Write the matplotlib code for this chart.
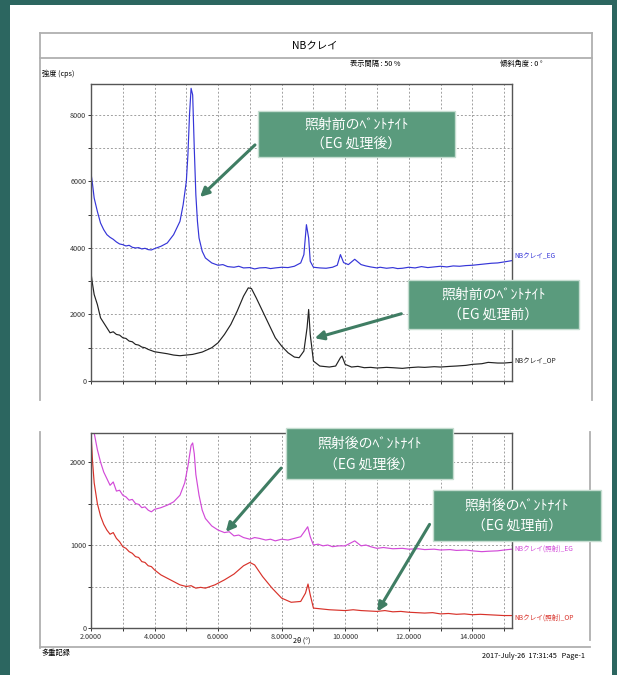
import matplotlib
matplotlib.use("Agg")
import matplotlib.pyplot as plt
from matplotlib.patches import Rectangle, FancyArrowPatch
from matplotlib.lines import Line2D

plt.rcParams['font.family'] = ['Noto Sans CJK JP', 'DejaVu Sans']

W, H = 617, 675

# --- data (2theta in degrees, intensity in cps) ---
eg_before_x = [2.0, 2.05, 2.1, 2.2, 2.3, 2.4, 2.5, 2.6, 2.7, 2.8, 2.9, 3.0, 3.1, 3.2, 3.3,
               3.4, 3.5, 3.6, 3.7, 3.8, 3.9, 4.0, 4.2, 4.4, 4.6, 4.8, 4.9, 5.0, 5.05, 5.1,
               5.15, 5.2, 5.25, 5.3, 5.35, 5.4, 5.5, 5.6, 5.8, 6.0, 6.15, 6.3, 6.5, 6.65,
               6.8, 7.0, 7.15, 7.3, 7.5, 7.65, 7.8, 8.0, 8.2, 8.4, 8.6, 8.7, 8.78, 8.85,
               8.9, 9.0, 9.2, 9.4, 9.6, 9.75, 9.85, 9.95, 10.1, 10.3, 10.5, 10.65, 10.8,
               11.0, 11.1, 11.3, 11.5, 11.65, 11.8, 12.0, 12.2, 12.4, 12.6, 12.8, 13.0,
               13.2, 13.4, 13.6, 13.8, 14.0, 14.2, 14.4, 14.6, 14.8, 15.0, 15.25]
eg_before_y = [6250, 5900, 5500, 5100, 4750, 4550, 4400, 4320, 4260, 4180, 4120, 4100, 4060,
               4080, 4020, 4000, 4010, 3970, 3990, 3950, 3940, 3980, 4050, 4150, 4400, 4800,
               5300, 6000, 6800, 8000, 8800, 8600, 7000, 5600, 4800, 4300, 3900, 3700, 3550,
               3480, 3500, 3440, 3420, 3450, 3400, 3410, 3370, 3400, 3410, 3380, 3400, 3420,
               3410, 3450, 3550, 3800, 4700, 4300, 3600, 3420, 3400, 3390, 3420, 3480, 3800,
               3560, 3500, 3660, 3500, 3460, 3430, 3400, 3420, 3390, 3410, 3380, 3390, 3420,
               3400, 3440, 3410, 3430, 3450, 3430, 3460, 3450, 3470, 3480, 3500, 3520, 3540,
               3550, 3580, 3620]

op_before_x = [2.0, 2.05, 2.1, 2.2, 2.3, 2.4, 2.5, 2.6, 2.7, 2.8, 2.9, 3.0, 3.1, 3.2, 3.3,
               3.4, 3.5, 3.6, 3.7, 3.8, 4.0, 4.2, 4.4, 4.6, 4.8, 5.0, 5.2, 5.5, 5.8, 6.0,
               6.2, 6.4, 6.6, 6.8, 6.95, 7.05, 7.2, 7.4, 7.6, 7.8, 8.0, 8.2, 8.4, 8.55, 8.7,
               8.8, 8.85, 8.9, 9.0, 9.2, 9.5, 9.7, 9.85, 9.9, 10.0, 10.2, 10.4, 10.6, 10.8,
               11.0, 11.3, 11.5, 11.8, 12.0, 12.3, 12.5, 12.8, 13.0, 13.3, 13.5, 13.8, 14.0,
               14.3, 14.5, 14.8, 15.0, 15.25]
op_before_y = [3250, 2900, 2600, 2300, 1900, 1750, 1600, 1450, 1480, 1400, 1380, 1300, 1280,
               1200, 1180, 1100, 1080, 1020, 1000, 950, 880, 850, 820, 780, 760, 780, 800,
               870, 1000, 1150, 1400, 1700, 2100, 2550, 2800, 2780, 2500, 2100, 1700, 1300,
               1050, 850, 720, 700, 900, 1600, 2150, 1400, 600, 450, 420, 450, 700, 750, 500,
               420, 440, 400, 410, 390, 410, 400, 380, 400, 420, 410, 430, 420, 440, 450, 470,
               500, 520, 560, 540, 540, 560]

eg_after_x = [2.1, 2.2, 2.3, 2.4, 2.5, 2.6, 2.7, 2.8, 2.9, 3.0, 3.1, 3.2, 3.3, 3.4, 3.5,
              3.6, 3.7, 3.8, 3.9, 4.0, 4.2, 4.4, 4.6, 4.8, 4.95, 5.05, 5.15, 5.2, 5.25, 5.3,
              5.4, 5.5, 5.6, 5.8, 6.0, 6.2, 6.35, 6.5, 6.65, 6.8, 7.0, 7.15, 7.3, 7.5, 7.65,
              7.8, 8.0, 8.2, 8.4, 8.6, 8.75, 8.82, 8.9, 9.0, 9.15, 9.3, 9.45, 9.6, 9.8,
              10.0, 10.3, 10.5, 10.65, 10.8, 11.0, 11.2, 11.5, 11.8, 12.0, 12.3, 12.5,
              12.8, 13.0, 13.3, 13.5, 13.8, 14.0, 14.3, 14.5, 14.8, 15.0, 15.25]
eg_after_y = [2350, 2150, 2000, 1880, 1800, 1720, 1760, 1650, 1660, 1600, 1580, 1540, 1550,
              1500, 1490, 1450, 1460, 1420, 1400, 1430, 1450, 1480, 1520, 1600, 1750, 1950,
              2200, 2230, 2100, 1850, 1600, 1420, 1320, 1230, 1180, 1150, 1160, 1110, 1120,
              1090, 1070, 1090, 1080, 1060, 1070, 1050, 1070, 1060, 1080, 1100, 1180, 1220,
              1100, 1000, 1010, 990, 1000, 980, 990, 990, 1050, 990, 1000, 980, 960, 970, 955,
              960, 950, 955, 945, 950, 940, 945, 935, 940, 930, 920, 925, 930, 940, 950]

op_after_x = [2.0, 2.05, 2.1, 2.2, 2.3, 2.4, 2.5, 2.6, 2.7, 2.8, 2.9, 3.0, 3.1, 3.2, 3.3,
              3.4, 3.5, 3.6, 3.7, 3.8, 3.9, 4.0, 4.2, 4.4, 4.6, 4.8, 5.0, 5.15, 5.3, 5.45,
              5.6, 5.9, 6.2, 6.5, 6.8, 7.0, 7.15, 7.4, 7.7, 8.0, 8.3, 8.6, 8.75, 8.83, 8.9,
              9.0, 9.25, 9.5, 9.75, 10.0, 10.25, 10.5, 10.75, 11.0, 11.25, 11.5, 11.75, 12.0,
              12.25, 12.5, 12.75, 13.0, 13.25, 13.5, 13.75, 14.0, 14.25, 14.5, 14.75, 15.0,
              15.25]
op_after_y = [2350, 2000, 1750, 1500, 1350, 1250, 1180, 1130, 1150, 1080, 1040, 980, 960,
              920, 900, 860, 850, 800, 790, 750, 740, 700, 640, 600, 560, 520, 500, 510, 480,
              490, 480, 520, 580, 650, 750, 790, 760, 620, 480, 360, 310, 320, 420, 530, 400,
              240, 230, 220, 215, 210, 220, 210, 205, 200, 210, 195, 200, 190, 185, 180, 185,
              170, 175, 165, 170, 160, 165, 160, 155, 150, 150]

top_yticks = [0, 1000, 2000, 3000, 4000, 5000, 6000, 7000, 8000]
top_ylabels = ['0', '', '2000', '', '4000', '', '6000', '', '8000']
bot_yticks = [0, 500, 1000, 1500, 2000]
bot_ylabels = ['0', '', '1000', '', '2000']
xticks = list(range(2, 16))
xlabels = ['%.4f' % t if t % 2 == 0 else '' for t in xticks]

series_labels = ['NBクレイ_EG', 'NBクレイ_OP', 'NBクレイ(照射)_EG', 'NBクレイ(照射)_OP']
callouts = [('照射前のﾍﾞﾝﾄﾅｲﾄ', '（EG 処理後）'),
            ('照射前のﾍﾞﾝﾄﾅｲﾄ', '（EG 処理前）'),
            ('照射後のﾍﾞﾝﾄﾅｲﾄ', '（EG 処理後）'),
            ('照射後のﾍﾞﾝﾄﾅｲﾄ', '（EG 処理前）')]


def fx(x):
    return x / W


def fy(y):
    return 1 - y / H


def axes_rect(left, top, right, bottom):
    return [fx(left), fy(bottom), (right - left) / W, (bottom - top) / H]


fig = plt.figure(figsize=(W / 100, H / 100), dpi=100)
fig.patch.set_facecolor('#2c6660')

# white slide area
fig.add_artist(Rectangle((fx(10), 0), fx(602), fy(5), transform=fig.transFigure,
                         facecolor='white', edgecolor='none', zorder=-2))

# report page frame
frame_color = '#b0b0b0'
for (x0, y0, x1, y1) in [(40, 33, 592, 33), (40, 58, 592, 58), (40, 33, 40, 400),
                         (592, 33, 592, 400), (40, 432, 40, 648), (590, 432, 590, 640),
                         (40, 647, 590, 647)]:
    fig.add_artist(Line2D([fx(x0), fx(x1)], [fy(y0), fy(y1)], transform=fig.transFigure,
                          color=frame_color, lw=1.3, zorder=-1))

small = 5.2
fig.text(fx(315), fy(46), 'NBクレイ', ha='center', va='center', fontsize=7.5)
fig.text(fx(350), fy(64), '表示間隔 : 50 %', ha='left', va='center', fontsize=small)
fig.text(fx(500), fy(64), '傾斜角度 : 0 °', ha='left', va='center', fontsize=small)
fig.text(fx(42), fy(74), '強度 (cps)', ha='left', va='center', fontsize=small)
fig.text(fx(42), fy(653), '多重記録', ha='left', va='center', fontsize=small)
fig.text(fx(585), fy(656), '2017-July-26  17:31:45   Page-1', ha='right', va='center',
         fontsize=small)
fig.text(fx(302), fy(641), '2θ (°)', ha='center', va='center', fontsize=small)


def style_axes(ax, yticks, ylabels, ylim, show_x):
    ax.set_xlim(2, 15.25)
    ax.set_ylim(*ylim)
    ax.set_xticks(xticks)
    ax.set_xticklabels(xlabels if show_x else [''] * len(xticks))
    ax.set_yticks(yticks)
    ax.set_yticklabels(ylabels)
    ax.grid(True, linestyle=(0, (2, 2)), color='#a0a0a0', lw=0.7)
    ax.tick_params(direction='out', length=2.5, width=0.7, labelsize=5.2, pad=1,
                   colors='#333333')
    for s in ax.spines.values():
        s.set_color('#555555')
        s.set_linewidth(1.0)


ax1 = fig.add_axes(axes_rect(91, 84, 512, 381))
ax1.plot(eg_before_x, eg_before_y, color='#3535d8', lw=0.85)
ax1.plot(op_before_x, op_before_y, color='#222222', lw=0.85)
style_axes(ax1, top_yticks, top_ylabels, (0, 8930), False)

ax2 = fig.add_axes(axes_rect(91, 433, 512, 628))
ax2.plot(eg_after_x, eg_after_y, color='#d24ad8', lw=0.85)
ax2.plot(op_after_x, op_after_y, color='#d8322a', lw=0.85)
style_axes(ax2, bot_yticks, bot_ylabels, (0, 2350), True)

for lab, col, y in zip(series_labels, ['#3535d8', '#222222', '#d24ad8', '#d8322a'],
                       [256, 361, 549, 618]):
    fig.text(fx(514), fy(y), lab, color=col, ha='left', va='center', fontsize=4.8)

# callout boxes and arrows (pixel positions on the slide)
boxes = [(258, 111, 455, 157), (408, 280, 579, 329), (286, 428, 453, 479), (433, 490, 601, 541)]
arrows = [((257, 143), (198, 199)), ((404, 313), (312, 339)),
          ((283, 466), (224, 534)), ((431, 522), (376, 614))]
box_fc = '#5a9b7d'
arrow_c = '#3f7d63'
for (x0, y0, x1, y1), (l1, l2) in zip(boxes, callouts):
    fig.add_artist(Rectangle((fx(x0), fy(y1)), (x1 - x0) / W, (y1 - y0) / H,
                             transform=fig.transFigure, facecolor=box_fc,
                             edgecolor='#c5ddd0', lw=1.0, zorder=4))
    cx = (x0 + x1) / 2
    fig.text(fx(cx), fy(y0 + (y1 - y0) * 0.3), l1, color='white', ha='center',
             va='center', fontsize=10, zorder=5)
    fig.text(fx(cx), fy(y0 + (y1 - y0) * 0.72), l2, color='white', ha='center',
             va='center', fontsize=10, zorder=5)
for (a, b) in arrows:
    fig.add_artist(FancyArrowPatch((fx(a[0]), fy(a[1])), (fx(b[0]), fy(b[1])),
                                   transform=fig.transFigure, arrowstyle='-|>',
                                   mutation_scale=13, lw=2.2, color=arrow_c, zorder=4))

fig.savefig('out.png', dpi=100)
